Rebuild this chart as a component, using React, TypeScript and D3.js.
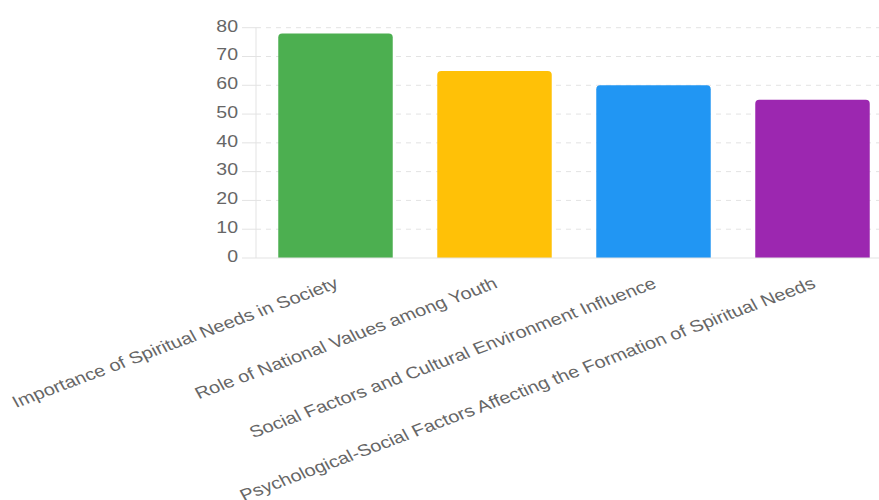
import React from "react";
import * as d3 from "d3";

const categories = [
  "Importance of Spiritual Needs in Society",
  "Role of National Values among Youth",
  "Social Factors and Cultural Environment Influence",
  "Psychological-Social Factors Affecting the Formation of Spiritual Needs",
];
const values = [78, 65, 60, 55];
const colors = ["#4CAF50", "#FFC107", "#2196F3", "#9C27B0"];
const yTicks = [0, 10, 20, 30, 40, 50, 60, 70, 80];

export default function App() {
  const W = 879, H = 500;
  const left = 256, right = 892, top = 27.7, bottom = 258;
  const sx = 1.22;
  const x = d3.scaleBand<string>().domain(categories).range([left, right]).paddingInner(0).paddingOuter(0);
  const y = d3.scaleLinear().domain([0, 80]).range([bottom, top]);
  const bw = x.bandwidth() * 0.72;
  const font = "'Liberation Sans', Arial, sans-serif";
  const r = 4;
  return (
    <svg width={W} height={H} style={{ position: "absolute", left: 0, top: 0 }} fontFamily={font}>
      <rect width={W} height={H} fill="#fff" />
      {yTicks.map((t) => (
        <g key={t}>
          {t > 0 && (
            <line x1={left} x2={right} y1={y(t)} y2={y(t)} stroke="#e3e3e3" strokeDasharray="5,5" />
          )}
          <line x1={left - 14} x2={left} y1={y(t)} y2={y(t)} stroke="#e3e3e3" />
          <text
            transform={`translate(${left - 18},${y(t)}) scale(${sx},1)`}
            dy="0.24em"
            textAnchor="end"
            fontSize={16}
            fill="#666"
          >
            {t}
          </text>
        </g>
      ))}
      <line x1={left} x2={left} y1={top} y2={bottom} stroke="#e3e3e3" />
      {categories.map((c, i) => {
        const cx = x(c)! + x.bandwidth() / 2;
        const x0 = cx - bw / 2, x1 = cx + bw / 2;
        const yt = y(values[i]);
        const p = `M${x0},${bottom} L${x0},${yt + r} Q${x0},${yt} ${x0 + r},${yt} L${x1 - r},${yt} Q${x1},${yt} ${x1},${yt + r} L${x1},${bottom} Z`;
        return <path key={c} d={p} fill={colors[i]} />;
      })}
      <line x1={left} x2={right} y1={bottom} y2={bottom} stroke="#e3e3e3" />
      {categories.map((c) => {
        const cx = x(c)! + x.bandwidth() / 2;
        return (
          <text
            key={c}
            transform={`translate(${cx - 2},${bottom + 18}) scale(${sx},1) rotate(-24.5)`}
            textAnchor="end"
            dy="0.75em"
            fontSize={16.4}
            fill="#666"
          >
            {c}
          </text>
        );
      })}
    </svg>
  );
}
